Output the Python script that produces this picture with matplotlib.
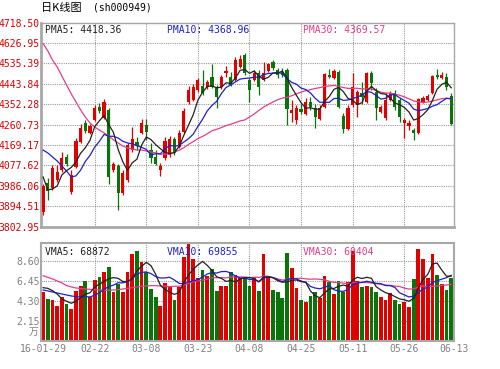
import matplotlib
matplotlib.use('Agg')
import matplotlib.pyplot as plt
import numpy as np
import pandas as pd

# ---------------- data ----------------
date_labels = ['16-01-29', '02-22', '03-08', '03-23', '04-08', '04-25', '05-11', '05-26', '06-13']
date_pos = [0, 11, 22, 33, 44, 55, 66, 77, 87]

opens = [3869, 3999, 3977, 4013, 4057, 4116, 3959, 4071, 4183, 4268,
         4224, 4282, 4340, 4291, 4327, 4057, 4075, 3954, 4013, 4147,
         4183, 4224, 4259, 4147, 4116, 4057, 4111, 4125, 4197, 4161,
         4228, 4363, 4372, 4417, 4434, 4430, 4475, 4430, 4430, 4493,
         4475, 4461, 4520, 4574, 4461, 4461, 4493, 4461, 4502, 4542,
         4506, 4497, 4506, 4313, 4282, 4331, 4309, 4363, 4336, 4286,
         4340, 4484, 4470, 4497, 4300, 4241, 4349, 4349, 4403, 4363,
         4493, 4408, 4318, 4291, 4372, 4403, 4372, 4268, 4255, 4237,
         4224, 4363, 4372, 4403, 4484, 4470, 4475, 4390]
highs = [3995, 4021, 4080, 4080, 4138, 4129, 4057, 4201, 4264, 4282,
         4264, 4349, 4358, 4376, 4336, 4093, 4084, 4057, 4179, 4250,
         4205, 4286, 4286, 4179, 4147, 4089, 4206, 4210, 4206, 4237,
         4336, 4434, 4443, 4470, 4506, 4461, 4533, 4439, 4484, 4524,
         4497, 4565, 4574, 4583, 4470, 4506, 4506, 4542, 4538, 4551,
         4515, 4515, 4515, 4372, 4349, 4354, 4381, 4385, 4354, 4349,
         4493, 4511, 4511, 4506, 4313, 4349, 4493, 4416, 4452, 4497,
         4502, 4425, 4349, 4403, 4412, 4416, 4381, 4291, 4282, 4246,
         4381, 4390, 4398, 4484, 4511, 4497, 4493, 4403]
lows = [3856, 3923, 3968, 4004, 4049, 4075, 3950, 4066, 4179, 4224,
        4219, 4277, 4313, 4286, 3995, 4049, 3878, 3945, 4004, 4138,
        4147, 4219, 4192, 4089, 4080, 4030, 4102, 4116, 4125, 4156,
        4224, 4354, 4367, 4408, 4394, 4421, 4425, 4336, 4421, 4475,
        4434, 4457, 4515, 4484, 4363, 4457, 4394, 4457, 4497, 4506,
        4470, 4475, 4259, 4273, 4264, 4309, 4304, 4327, 4246, 4282,
        4336, 4470, 4466, 4336, 4224, 4237, 4340, 4295, 4354, 4358,
        4416, 4282, 4313, 4282, 4367, 4327, 4273, 4201, 4237, 4192,
        4219, 4358, 4367, 4398, 4466, 4466, 4416, 4260]
closes = [3986, 3963, 4066, 4049, 4111, 4084, 4035, 4188, 4246, 4233,
          4255, 4336, 4322, 4363, 4026, 4084, 3954, 4044, 4170, 4197,
          4165, 4268, 4228, 4111, 4084, 4075, 4188, 4197, 4134, 4224,
          4322, 4417, 4430, 4461, 4403, 4452, 4430, 4385, 4475, 4502,
          4439, 4551, 4556, 4493, 4417, 4493, 4430, 4493, 4533, 4515,
          4484, 4484, 4331, 4327, 4336, 4318, 4363, 4340, 4295, 4336,
          4488, 4475, 4502, 4340, 4241, 4336, 4430, 4408, 4385, 4493,
          4448, 4336, 4340, 4372, 4403, 4340, 4295, 4282, 4268, 4223,
          4376, 4381, 4390, 4479, 4475, 4484, 4430, 4264]
# volume in units of 10^4 (万)
volumes = [5.23, 4.52, 4.37, 3.80, 4.69, 3.98, 3.44, 5.41, 5.88, 6.49,
           4.69, 6.56, 6.92, 7.38, 7.92, 5.30, 6.13, 5.23, 7.38, 9.35,
           9.71, 8.46, 7.38, 5.59, 4.69, 3.80, 6.24, 5.88, 4.41, 5.77,
           9.07, 10.45, 8.82, 6.74, 7.67, 6.95, 7.74, 5.41, 5.95, 5.95,
           7.45, 7.10, 6.74, 6.85, 5.95, 6.85, 5.41, 9.35, 6.95, 5.48,
           5.23, 4.62, 9.42, 7.85, 5.66, 4.41, 4.16, 4.80, 5.30, 4.62,
           6.95, 6.31, 5.05, 6.49, 5.23, 6.31, 9.71, 6.49, 5.84, 5.88,
           5.77, 5.23, 4.69, 4.41, 5.12, 4.41, 3.98, 4.23, 3.62, 6.67,
           9.89, 8.82, 6.74, 9.32, 7.10, 6.13, 5.52, 6.77]

# moving-average values before enough in-window history exists
ma5_head = [4026, 3968, 3972, 3986]
ma10_head = [4147, 4134, 4116, 4098, 4075, 4053, 4026, 4031, 4057]
ma30_head = [4625, 4592, 4551, 4520, 4479, 4439, 4399, 4363, 4327, 4295,
             4268, 4250, 4237, 4224, 4210, 4192, 4179, 4165, 4156, 4152,
             4147, 4147, 4143, 4138, 4134, 4129, 4129, 4129, 4138]
vma5_head = [5.73, 5.66, 5.41, 5.05]
vma10_head = [5.48, 5.38, 5.27, 5.16, 5.05, 4.95, 4.84, 4.77, 4.73]
vma30_head = [7.02, 6.84, 6.67, 6.45, 6.24, 5.95, 5.81, 5.70, 5.63, 5.59,
              5.55, 5.52, 5.48, 5.45, 5.45, 5.48, 5.52, 5.59, 5.66, 5.73,
              5.81, 5.88, 5.91, 5.95, 5.95, 5.91, 5.88, 5.84, 5.88]

price_ticks = [3802.95, 3894.51, 3986.06, 4077.62, 4169.17, 4260.73,
               4352.28, 4443.84, 4535.39, 4626.95, 4718.50]
vol_ticks = [2.15, 4.30, 6.45, 8.60]

pma_text = ['PMA5: 4418.36', 'PMA10: 4368.96', 'PMA30: 4369.57']
vma_text = ['VMA5: 68872', 'VMA10: 69855', 'VMA30: 60404']

# ---------------- helpers ----------------
def moving(values, n, head):
    s = pd.Series(values, dtype=float).rolling(n).mean().to_numpy()
    s[:n - 1] = head
    return s

O = np.array(opens, float); H = np.array(highs, float)
L = np.array(lows, float); C = np.array(closes, float)
V = np.array(volumes, float)
x = np.arange(len(O))
up = C >= O

RED = '#e00000'
GREEN = '#0a730a'
C5, C10, C30 = '#222222', '#2020c8', '#e0408a'
GRID = '#9a9a9a'
MONO = 'DejaVu Sans Mono'

W, Hpx = 500, 369
fig = plt.figure(figsize=(W / 100, Hpx / 100), dpi=100)
fig.patch.set_facecolor('white')

def px_axes(l, t, r, b):
    return fig.add_axes([l / W, 1 - b / Hpx, (r - l) / W, (b - t) / Hpx])

xlim = (-0.45, 87.6)

# ---------------- price panel ----------------
ax = px_axes(41, 22.7, 454, 226.7)
ax.set_xlim(*xlim)
ax.set_ylim(price_ticks[0], price_ticks[-1])
ax.set_yticks(price_ticks)
ax.set_yticklabels([f'{t:.2f}' for t in price_ticks], color=RED,
                   fontsize=7, family=MONO)
ax.set_xticks([])
ax.tick_params(axis='y', length=0, pad=1)
for t in price_ticks[1:-1]:
    ax.axhline(t, color=GRID, lw=0.8, ls=(0, (1, 1)), zorder=0)
for p in date_pos[1:-1]:
    ax.axvline(p, color=GRID, lw=0.8, ls=(0, (1, 1)), zorder=0)

cols = np.where(up, RED, GREEN)
ax.vlines(x, L, H, colors=cols, lw=0.9, zorder=2)
body_bottom = np.minimum(O, C)
body_h = np.maximum(np.abs(C - O), 3.0)
ax.bar(x, body_h, bottom=body_bottom, width=0.68, color=cols,
       edgecolor='none', zorder=3)

ma5 = moving(closes, 5, ma5_head)
ma10 = moving(closes, 10, ma10_head)
ma30 = moving(closes, 30, ma30_head)
ax.plot(x, ma30, color=C30, lw=0.9, zorder=4)
ax.plot(x, ma10, color=C10, lw=0.9, zorder=5)
ax.plot(x, ma5, color=C5, lw=0.9, zorder=6)

for s in ax.spines.values():
    s.set_color('#a8a8a8'); s.set_linewidth(1.0)
ax.spines['left'].set_linewidth(2.0)
ax.spines['bottom'].set_linewidth(2.0)

# ---------------- volume panel ----------------
av = px_axes(41, 243.3, 454, 341)
av.set_xlim(*xlim)
av.set_ylim(0, 10.5)
av.set_yticks(vol_ticks)
av.set_yticklabels([f'{t:.2f}' for t in vol_ticks], color='#808080',
                   fontsize=7, family=MONO)
av.set_xticks(date_pos[:-1] + [87.6])
av.set_xticklabels(date_labels, color='#808080', fontsize=7, family=MONO)
av.tick_params(length=0, pad=2)
av.tick_params(axis='y', pad=1)
for t in vol_ticks:
    av.axhline(t, color=GRID, lw=0.8, ls=(0, (1, 1)), zorder=0)
for p in date_pos[1:-1]:
    av.axvline(p, color=GRID, lw=0.8, ls=(0, (1, 1)), zorder=0)

av.bar(x, V, width=0.8, color=cols, edgecolor='none', zorder=2)
vma5 = moving(volumes, 5, vma5_head)
vma10 = moving(volumes, 10, vma10_head)
vma30 = moving(volumes, 30, vma30_head)
av.plot(x, vma30, color=C30, lw=0.9, zorder=4)
av.plot(x, vma10, color=C10, lw=0.9, zorder=5)
av.plot(x, vma5, color=C5, lw=0.9, zorder=6)
for s in av.spines.values():
    s.set_color('#a8a8a8'); s.set_linewidth(1.5)

# ---------------- texts ----------------
fig.text(41 / W, 1 - 8 / Hpx, '日K线图', family=['Noto Sans CJK SC', 'DejaVu Sans'],
         fontsize=8, va='center', ha='left', color='black')
fig.text(93 / W, 1 - 8 / Hpx, '(sh000949)', family=MONO, fontsize=7,
         va='center', ha='left', color='black')

for txt, xp, col in zip(pma_text, [45, 167, 303], [C5, C10, C30]):
    fig.text(xp / W, 1 - 30 / Hpx, txt, family=MONO, fontsize=7,
             va='center', ha='left', color=col, zorder=10)
for txt, xp, col in zip(vma_text, [45, 167, 303], [C5, C10, C30]):
    fig.text(xp / W, 1 - 252 / Hpx, txt, family=MONO, fontsize=7,
             va='center', ha='left', color=col, zorder=10)
fig.text(38 / W, 1 - 332 / Hpx, '万', family=['Noto Sans CJK SC', 'DejaVu Sans'],
         fontsize=7, va='center', ha='right', color='#808080')

fig.savefig('out.png', dpi=100, facecolor='white')
